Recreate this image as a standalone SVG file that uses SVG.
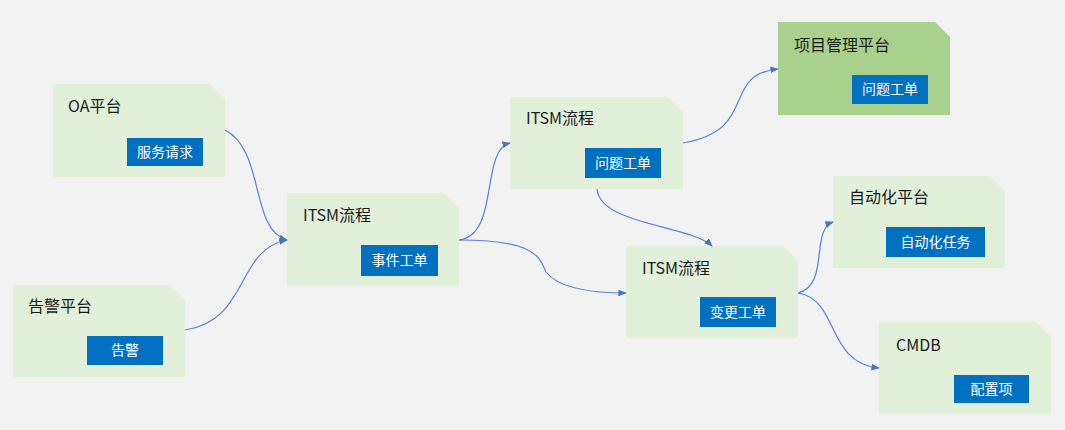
<svg xmlns="http://www.w3.org/2000/svg" width="1065" height="430" viewBox="0 0 1065 430">
<style>
.card{fill:#e2f0d9}
.card2{fill:#a9d18e}
.t{font-family:"Noto Sans CJK SC","Noto Sans",sans-serif;font-size:16px;fill:#1a1a1a}
.btn{fill:#0070c0}
.bt{font-family:"Noto Sans CJK SC",sans-serif;font-size:14px;fill:#fff;text-anchor:middle}
.c{fill:none;stroke:#5b7fd0;stroke-width:1.2;marker-end:url(#a)}
</style>
<defs><marker id="a" viewBox="0 0 10 10" refX="9" refY="5" markerWidth="7" markerHeight="7" orient="auto"><path d="M0,1L10,5L0,9z" fill="#4472c4"/></marker></defs>
<rect width="1065" height="430" fill="#f2f2f2"/>
<g id="oa"><path class="card" d="M53,84H210L225,99V177H53z"/><text class="t" x="68" y="112">OA平台</text><rect class="btn" x="127" y="138" width="76" height="28"/><text class="bt" x="165" y="157">服务请求</text></g>
<g id="alarm"><path class="card" d="M13,285H170L185,300V377H13z"/><text class="t" x="28" y="312">告警平台</text><rect class="btn" x="87" y="336" width="76" height="29"/><text class="bt" x="125" y="355">告警</text></g>
<g id="itsm1"><path class="card" d="M287,193H444L459,208V286H287z"/><text class="t" x="303" y="221">ITSM流程</text><rect class="btn" x="361" y="245" width="77" height="31"/><text class="bt" x="399.500" y="265">事件工单</text></g>
<g id="itsm2"><path class="card" d="M510,97H668L683,112V189H510z"/><text class="t" x="526" y="124">ITSM流程</text><rect class="btn" x="585" y="148" width="76" height="30"/><text class="bt" x="623" y="168">问题工单</text></g>
<g id="pm"><path class="card2" d="M778,22H935L950,37V115H778z"/><text class="t" x="794" y="51">项目管理平台</text><rect class="btn" x="852" y="75" width="76" height="29"/><text class="bt" x="890" y="94">问题工单</text></g>
<g id="auto"><path class="card" d="M833,176H990L1005,191V268H833z"/><text class="t" x="849" y="203">自动化平台</text><rect class="btn" x="886" y="227" width="99" height="30"/><text class="bt" x="935.500" y="247">自动化任务</text></g>
<g id="itsm3"><path class="card" d="M626,246H783L798,261V338H626z"/><text class="t" x="642" y="274">ITSM流程</text><rect class="btn" x="700" y="297" width="76" height="30"/><text class="bt" x="738" y="317">变更工单</text></g>
<g id="cmdb"><path class="card" d="M879,322H1036L1051,337V414H879z"/><text class="t" x="896" y="351">CMDB</text><rect class="btn" x="954" y="375" width="75" height="28"/><text class="bt" x="991.500" y="394">配置项</text></g>
<g id="connectors">
<path class="c" d="M225,130C265,150 250,230 287,240"/>
<path class="c" d="M185,330C250,320 235,250 287,240"/>
<path class="c" d="M459,240C500,235 480,150 510,143"/>
<path class="c" d="M459,240C540,240 540,260 546,272C560,290 600,293 626,293"/>
<path class="c" d="M683,143C760,130 720,75 778,69"/>
<path class="c" d="M597,189C600,225 690,225 712,246"/>
<path class="c" d="M798,293C830,285 810,230 833,222"/>
<path class="c" d="M798,293C840,300 825,362 879,368"/>
</g>
</svg>
